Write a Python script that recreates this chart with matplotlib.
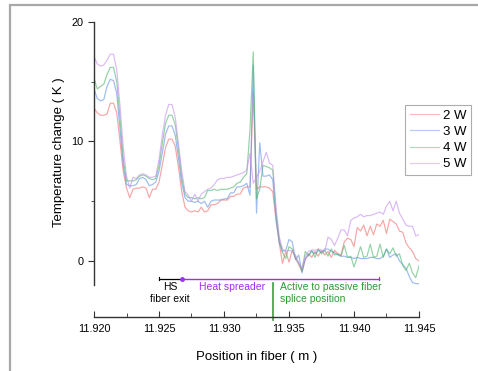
import numpy as np
import matplotlib
matplotlib.use('Agg')
import matplotlib.pyplot as plt
from matplotlib.patches import Rectangle
from matplotlib.ticker import MultipleLocator, FormatStrFormatter

plt.rcParams['font.family'] = ['Liberation Sans', 'DejaVu Sans']

# position along fiber (m), 0.25 mm sampling
pos = np.round(11.920 + 0.00025 * np.arange(101), 5)

t_2w = [12.8, 12.4, 12.2, 12.2, 12.3, 13.2, 13.2, 12.4, 10.0, 7.5,
        6.1, 5.3, 6.0, 6.1, 6.1, 6.2, 6.1, 5.3, 6.0, 6.0,
        6.6, 8.0, 9.5, 10.2, 10.2, 9.6, 7.8, 5.8, 4.5, 4.2,
        4.1, 4.2, 4.1, 4.5, 4.1, 4.2, 4.7, 4.7, 4.8, 5.1,
        5.1, 5.1, 5.4, 5.4, 5.6, 5.6, 6.1, 6.2, 6.2, 14.1,
        6.0, 6.2, 6.2, 6.2, 6.1, 5.8, 3.5, 1.5, -0.2, 0.8,
        -0.1, 0.9, 0.2, -0.3, -0.9, 0.1, 0.6, 0.3, 0.8, 0.4,
        0.9, 0.5, 0.8, 0.3, 0.9, 0.6, 0.5, 1.6, 1.9, 1.8,
        1.2, 2.8, 2.5, 3.0, 2.1, 2.9, 2.2, 3.1, 2.9, 3.4,
        2.3, 3.5, 3.3, 3.1, 2.5, 2.4, 1.5, 1.1, 0.8, 0.2,
        0.0]
t_3w = [14.4, 13.6, 13.4, 13.5, 14.6, 15.2, 15.1, 14.0, 11.0, 8.0,
        6.4, 6.3, 6.3, 6.4, 6.9, 7.0, 6.8, 6.3, 6.4, 6.6,
        7.5, 9.0, 10.6, 11.3, 11.3, 10.5, 8.6, 6.5, 5.3, 5.0,
        5.0, 4.9, 5.0, 4.8, 5.0, 4.5, 5.0, 5.1, 5.1, 5.1,
        5.2, 5.2, 5.7, 5.7, 6.2, 6.2, 6.3, 6.5, 5.5, 16.4,
        4.0, 9.9, 7.1, 7.1, 7.2, 6.8, 3.5, 1.5, 0.8, 0.9,
        1.8, 1.6, 0.1, 0.5, -1.0, 0.2, 0.5, 0.8, 0.6, 0.9,
        0.7, 1.0, 1.0, 0.8, 0.7, 0.5, 0.4, 0.4, 0.3, 0.3,
        0.2, 0.3, 0.2, 0.2, 0.2, 0.3, 0.3, 0.2, 0.2, 0.4,
        1.0, 0.3, 0.5, 0.6, 0.0, -0.3, -0.6, -1.3, -1.8, -1.9,
        -1.9]
t_4w = [15.3, 14.4, 14.6, 14.8, 15.6, 16.2, 16.2, 15.0, 12.0, 8.6,
        6.7, 6.7, 6.7, 6.8, 7.1, 7.2, 7.1, 6.9, 6.8, 6.9,
        8.0, 9.8, 11.5, 12.2, 12.2, 11.4, 9.3, 7.0, 5.6, 5.3,
        5.3, 5.2, 5.3, 5.2, 5.3, 5.9, 5.9, 6.0, 5.9, 6.0,
        6.0, 6.0, 6.1, 6.2, 6.5, 6.6, 7.0, 7.3, 11.0, 17.5,
        5.2, 6.0, 8.0, 7.9, 7.8, 7.6, 4.0, 1.8, 0.7, 0.2,
        1.2, 1.0, 0.3, -0.2, -0.8, 0.8, 0.4, 0.9, 0.3, 1.0,
        0.6, 0.9, 0.4, 1.0, 0.5, 0.6, 0.4, 1.3, 0.3, 0.4,
        -0.5, 0.3, 1.2, 0.3, 0.4, 1.4, 0.3, 0.4, 1.4, 0.3,
        1.0, 0.6, 1.1, 0.4, 0.6, -0.4, -0.8, -0.2, -1.0, -1.4,
        -0.4]
t_5w = [17.1, 16.5, 16.3, 16.4, 16.8, 17.3, 17.3, 16.0, 13.0, 9.5,
        7.1, 6.1, 7.0, 6.9, 7.2, 7.3, 7.2, 7.0, 7.0, 7.1,
        8.5, 10.5, 12.2, 13.1, 13.1, 12.0, 9.8, 7.5, 5.8, 5.5,
        5.0, 5.6, 5.0, 5.6, 5.8, 6.0, 6.1, 6.4, 6.8, 6.9,
        6.9, 7.0, 7.0, 7.1, 7.2, 7.3, 7.4, 7.6, 9.0, 6.5,
        7.0, 7.5, 8.3, 9.1, 8.2, 8.0, 4.5, 2.0, 1.0, 0.8,
        0.9, 0.8, 0.5, -0.2, -0.6, 0.4, 0.8, 0.9, 0.9, 1.0,
        0.9, 0.8, 2.0, 1.8, 1.3, 1.9, 2.6, 2.6, 2.1, 3.4,
        3.6, 3.7, 3.9, 3.7, 3.8, 3.8, 3.9, 4.0, 4.1, 3.9,
        4.6, 5.0, 4.2, 5.0, 4.0, 3.5, 3.0, 2.9, 2.9, 2.1,
        2.2]

labels = ['2 W', '3 W', '4 W', '5 W']
colors = ['#f26a6a', '#5b8fe6', '#4db36a', '#c28cf0']

# annotation positions
hs_exit = 11.925
hs_start = 11.9268
hs_end = 11.9419
splice = 11.93377

fig = plt.figure(figsize=(4.78, 3.71), dpi=100)
ax = fig.add_axes([94/478, 1-317/371, 325/478, 295/371])

for y, c, lab in zip([t_2w, t_3w, t_4w, t_5w], colors, labels):
    ax.plot(pos, y, color=c, lw=0.85, alpha=0.6, label=lab)

ax.set_xlim(11.920, 11.945)
ax.set_ylim(-4.69, 20)
ax.spines['top'].set_visible(False)
ax.spines['right'].set_visible(False)
ax.spines['left'].set_bounds(-2, 20)
for s in ['left', 'bottom']:
    ax.spines[s].set_color('#333333')
    ax.spines[s].set_linewidth(1.0)

ax.xaxis.set_major_locator(MultipleLocator(0.005))
ax.xaxis.set_minor_locator(MultipleLocator(0.0025))
ax.xaxis.set_major_formatter(FormatStrFormatter('%.3f'))
ax.set_yticks([0, 10, 20])
ax.set_yticks([5, 15], minor=True)
ax.tick_params(axis='x', which='major', direction='in', length=4, labelsize=7.8, pad=5, colors='#333333', labelcolor='black')
ax.tick_params(axis='x', which='minor', direction='in', length=3, colors='#333333')
ax.tick_params(axis='y', which='major', direction='out', length=4, labelsize=7.8, colors='#333333', labelcolor='black')
ax.tick_params(axis='y', which='minor', direction='out', length=2.5, colors='#333333')

ax.set_xlabel('Position in fiber ( m )', fontsize=9.5)
ax.set_ylabel('Temperature change ( K )', fontsize=9.5)
ax.xaxis.set_label_coords(0.5, -0.115)
ax.yaxis.set_label_coords(-0.09, 0.56)

# HS fiber exit bar
ax.plot([hs_exit, hs_start], [-1.5, -1.5], color='black', lw=0.9)
ax.plot([hs_exit, hs_exit], [-1.62, -1.38], color='black', lw=0.8)
# heat spreader span
ax.plot([hs_start, hs_end], [-1.5, -1.5], color='#9b30f0', lw=1.0)
ax.plot([hs_start], [-1.5], marker='o', ms=2.5, color='#9b30f0')
ax.plot([hs_end, hs_end], [-1.62, -1.38], color='#9b30f0', lw=0.8)
# splice position
ax.plot([splice, splice], [-1.85, -4.95], color='#3aa040', lw=1.2, clip_on=False)

ax.text(11.92585, -2.2, 'HS', ha='center', va='center', fontsize=7.5)
ax.text(11.92585, -3.2, 'fiber exit', ha='center', va='center', fontsize=7.5)
ax.text(11.9281, -2.2, 'Heat spreader', ha='left', va='center', fontsize=7.5, color='#a030f0')
ax.text(11.9343, -2.2, 'Active to passive fiber', ha='left', va='center', fontsize=7.5, color='#2f9a35')
ax.text(11.9343, -3.2, 'splice position', ha='left', va='center', fontsize=7.5, color='#2f9a35')

leg = ax.legend(loc='upper left', bbox_to_anchor=(405/478, 1-105/371), bbox_transform=fig.transFigure,
                fontsize=9.5, frameon=True, fancybox=False, edgecolor='#999999',
                handlelength=2.2, handletextpad=0.3, borderpad=0.35, labelspacing=0.3,
                borderaxespad=0)
leg.get_frame().set_linewidth(0.8)
for h in leg.get_lines():
    h.set_alpha(0.45)

# outer gray frame
fig.patches.append(Rectangle((10/478, -0.1), 1.2, 1.1 - 5/371, transform=fig.transFigure,
                             fill=False, edgecolor='#a8a8a8', lw=1.6))

fig.savefig('out.png', dpi=100)
